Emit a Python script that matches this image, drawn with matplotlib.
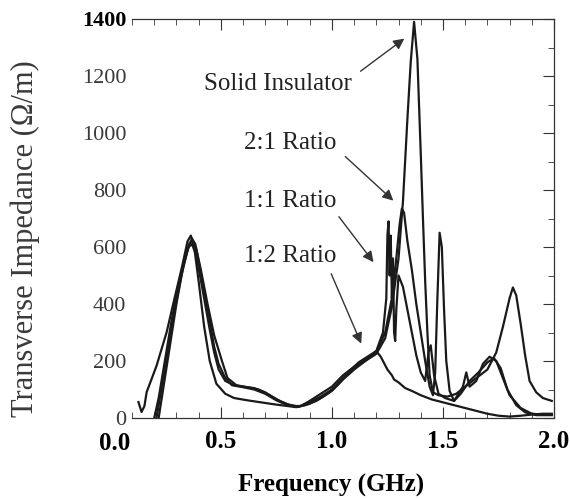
import matplotlib
matplotlib.use('Agg')
import matplotlib.pyplot as plt
import matplotlib.transforms as mtransforms
from matplotlib.ticker import MultipleLocator

plt.rcParams['font.family'] = ['Liberation Serif', 'DejaVu Serif']

# frequency (GHz) / transverse impedance (ohm/m)
freq_solid = [0.20, 0.22, 0.25, 0.28, 0.31, 0.34, 0.36, 0.37, 0.39, 0.42, 0.45, 0.47, 0.49, 0.52,
              0.55, 0.60, 0.65, 0.70, 0.75, 0.80, 0.85, 0.90, 0.95, 1.00, 1.05, 1.10, 1.15, 1.20,
              1.24, 1.27, 1.30, 1.32, 1.34, 1.355, 1.37, 1.385, 1.40, 1.41, 1.42, 1.43, 1.44,
              1.455, 1.48, 1.52, 1.56, 1.60, 1.65, 1.70, 1.74, 1.77, 1.80, 1.815, 1.83, 1.85,
              1.87, 1.89, 1.92, 1.95, 1.99]
z_solid = [0, 70, 210, 350, 470, 570, 615, 620, 590, 470, 340, 250, 190, 140,
           115, 108, 100, 85, 62, 45, 40, 55, 75, 100, 140, 175, 200, 225,
           280, 390, 560, 760, 1050, 1250, 1390, 1260, 930, 700, 480, 300, 150,
           90, 80, 75, 85, 110, 140, 170, 230, 320, 420, 458, 430, 330,
           220, 130, 90, 70, 60]

freq_21 = [0.21, 0.23, 0.26, 0.29, 0.32, 0.35, 0.37, 0.385, 0.41, 0.44, 0.47, 0.505, 0.53, 0.57,
           0.62, 0.67, 0.72, 0.77, 0.82, 0.86, 0.90, 0.95, 1.00, 1.05, 1.10, 1.15, 1.20, 1.24,
           1.27, 1.29, 1.305, 1.315, 1.325, 1.34, 1.36, 1.38, 1.40, 1.42, 1.44, 1.455, 1.465,
           1.475, 1.485, 1.495, 1.505, 1.515, 1.53, 1.55, 1.58, 1.62, 1.66, 1.70, 1.73, 1.76,
           1.79, 1.83, 1.87, 1.92, 1.99]
z_21 = [0, 90, 230, 370, 490, 590, 630, 610, 520, 400, 290, 200, 140, 115,
        108, 100, 80, 58, 42, 42, 60, 85, 110, 150, 180, 205, 230, 300,
        420, 560, 680, 735, 720, 620, 520, 400, 300, 200, 110, 80, 160,
        420, 650, 600, 380, 200, 95, 60, 85, 130, 160, 195, 210, 175,
        100, 45, 20, 10, 10]

freq_11 = [0.22, 0.24, 0.27, 0.30, 0.33, 0.355, 0.37, 0.39, 0.42, 0.45, 0.47, 0.49, 0.52, 0.56,
           0.60, 0.65, 0.70, 0.75, 0.80, 0.85, 0.90, 0.95, 1.00, 1.05, 1.10, 1.15, 1.20, 1.23,
           1.245, 1.25, 1.255, 1.26, 1.265, 1.27, 1.275, 1.28, 1.285, 1.29, 1.30, 1.32, 1.34,
           1.36, 1.38, 1.40, 1.42, 1.435, 1.445, 1.46, 1.48, 1.51, 1.55, 1.59, 1.605, 1.62,
           1.65, 1.68, 1.71, 1.74, 1.77, 1.80, 1.85, 1.90, 1.95, 1.99]
z_11 = [0, 100, 250, 400, 530, 600, 610, 570, 440, 310, 230, 170, 130, 115,
        110, 105, 90, 65, 48, 40, 50, 70, 95, 135, 170, 200, 235, 300,
        420, 640, 690, 500, 640, 420, 560, 300, 270, 380, 500, 460, 380,
        300, 220, 160, 130, 230, 255, 150, 85, 70, 60, 110, 160, 110,
        130, 190, 215, 200, 140, 80, 35, 15, 12, 12]

freq_12 = [0.129, 0.143, 0.156, 0.166, 0.21, 0.256, 0.29, 0.325, 0.35, 0.365, 0.38, 0.40, 0.425,
           0.45, 0.48, 0.52, 0.56, 0.62, 0.68, 0.74, 0.80, 0.84, 0.88, 0.93, 0.98, 1.03, 1.08,
           1.12, 1.16, 1.20, 1.22, 1.25, 1.27, 1.28, 1.30, 1.33, 1.36, 1.40, 1.45, 1.50, 1.55,
           1.60, 1.65, 1.70, 1.75, 1.80, 1.85, 1.90, 1.95, 1.99]
z_12 = [56, 21, 42, 91, 182, 301, 415, 530, 620, 640, 600, 480, 320,
        200, 120, 85, 70, 62, 55, 48, 42, 38, 45, 60, 85, 120, 165,
        195, 215, 235, 215, 170, 150, 135, 125, 105, 95, 80, 65, 55, 45,
        35, 25, 15, 8, 5, 8, 12, 15, 15]

y_ticks = [0, 200, 400, 600, 800, 1000, 1200, 1400]
x_ticks = [0.5, 1.0, 1.5, 2.0]
x_tick_labels = ['0.5', '1.0', '1.5', '2.0']

# label text, text position, arrow tail, arrow tip
notes = [
    ('Solid Insulator', (0.757, 1172), (1.119, 1211), (1.336, 1337)),
    ('2:1 Ratio', (0.812, 966), (1.051, 924), (1.286, 756)),
    ('1:1 Ratio', (0.812, 760), (1.024, 714), (1.195, 539)),
    ('1:2 Ratio', (0.812, 567), (0.992, 515), (1.137, 252)),
]

fig = plt.figure(figsize=(5.70, 4.99), dpi=100)
ax = fig.add_axes([132/570, 1 - 418/499, (554 - 132)/570, (418 - 19)/499])

for f, z in [(freq_solid, z_solid), (freq_21, z_21), (freq_11, z_11), (freq_12, z_12)]:
    ax.plot(f, z, color='#1a1a1a', lw=1.6)

ax.set_xlim(0.1, 2.0)
ax.set_ylim(0, 1400)
ax.spines['left'].set_visible(False)
for s in ['top', 'right', 'bottom']:
    ax.spines[s].set_color('#333333')
    ax.spines[s].set_linewidth(0.9)

ax.set_xticks(x_ticks)
ax.set_xticklabels(x_tick_labels, fontsize=18, fontweight='bold')
ax.xaxis.set_minor_locator(MultipleLocator(0.1))
ax.tick_params(axis='x', which='both', direction='in', top=True, bottom=True, color='#333333')
ax.tick_params(axis='x', which='major', length=8, pad=9)
ax.tick_params(axis='x', which='minor', length=4)

ax.set_yticks(y_ticks, [str(v) for v in y_ticks])
ax.yaxis.set_minor_locator(MultipleLocator(100))
ax.tick_params(axis='y', which='both', direction='in', left=False, right=True,
               labelleft=True, color='#333333', labelsize=16, labelcolor='#3a3a3a', pad=4)
ax.tick_params(axis='y', which='major', length=8)
ax.tick_params(axis='y', which='minor', length=4)
for t in ax.get_yticklabels():
    if t.get_text() == '1400':
        t.set_color('black')
        t.set_fontweight('bold')

# the 0.0 label sits left of the frame in the original
trans = mtransforms.blended_transform_factory(ax.transData, ax.transAxes)
ax.text(0.02, -0.065, '0.0', transform=trans, ha='center', va='center',
        fontsize=18, fontweight='bold', clip_on=False)

ax.set_xlabel('Frequency (GHz)', fontsize=18, fontweight='bold')
ax.xaxis.set_label_coords(0.472, -0.14)
ax.set_ylabel('Transverse Impedance (\u03a9/m)', fontsize=22, color='#3a3a3a')
ax.yaxis.set_label_coords(-0.218, 0.45)

for label, txt_pos, start, tip in notes:
    ax.text(txt_pos[0], txt_pos[1], label, fontsize=18, color='#222222', ha='center', va='center')
    ax.annotate('', xy=tip, xytext=start,
                arrowprops=dict(arrowstyle='-|>', color='#333333', lw=1.0, mutation_scale=16))

fig.savefig('out.png', dpi=100)
